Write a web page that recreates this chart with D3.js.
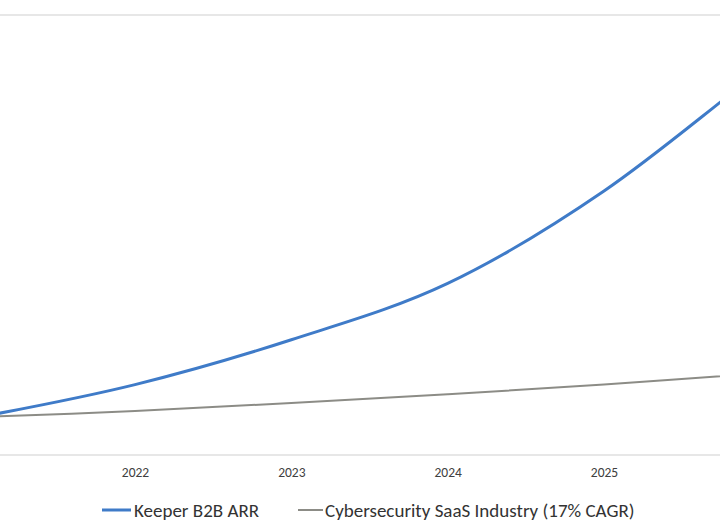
<!DOCTYPE html>
<html>
<head>
<meta charset="utf-8">
<script src="https://cdn.jsdelivr.net/npm/d3@7"></script>
<style>
  html, body { margin: 0; padding: 0; background: #fff; }
  svg { display: block; }
</style>
</head>
<body>
<svg id="chart" width="720" height="530"></svg>
<script>
// Datos (recortado: 2021 y 2026 quedan fuera del borde)
const years = [2021, 2022, 2023, 2024, 2025, 2026];
const tickYears = [2022, 2023, 2024, 2025];
const keeperArr = [43, 80, 131, 195, 300, 438];
const industry = [43, 50, 59, 69, 80, 93];
const gridValues = [0, 500];

const seriesNames = ["Keeper B2B ARR", "Cybersecurity SaaS Industry (17% CAGR)"];
const seriesColors = ["#3f7bc8", "#8c8c86"];
const seriesWidths = [3, 2];

const svg = d3.select("#chart");
const font = "Carlito, Calibri, Lato, sans-serif";

// Escalas
const x = d3.scaleLinear().domain([2022, 2025]).range([135, 604]);
const y = d3.scaleLinear().domain([0, 500]).range([455, 15]);

// Líneas de cuadrícula (la de 0 hace de eje)
svg.append("g")
  .selectAll("line")
  .data(gridValues)
  .enter().append("line")
  .attr("x1", 0)
  .attr("x2", 720)
  .attr("y1", d => y(d))
  .attr("y2", d => y(d))
  .attr("stroke", "#d0d0d0")
  .attr("stroke-width", 1.2);

// Eje X: solo etiquetas
const xAxis = svg.append("g")
  .attr("transform", `translate(0,${y(0)})`)
  .call(d3.axisBottom(x).tickValues(tickYears).tickFormat(d3.format("d")).tickSize(0).tickPadding(12));
xAxis.select(".domain").remove();
xAxis.selectAll("text")
  .attr("font-family", font)
  .attr("font-size", 13.5)
  .attr("fill", "#404040");

// Series
const line = d3.line()
  .x(d => x(d[0]))
  .y(d => y(d[1]))
  .curve(d3.curveCatmullRom.alpha(0));

const series = [keeperArr, industry];
// la gris se dibuja primero, la azul encima
[1, 0].forEach(i => {
  svg.append("path")
    .datum(years.map((yr, j) => [yr, series[i][j]]))
    .attr("fill", "none")
    .attr("stroke", seriesColors[i])
    .attr("stroke-width", seriesWidths[i])
    .attr("stroke-linejoin", "round")
    .attr("d", line);
});

// Leyenda
const legend = svg.append("g").attr("transform", "translate(102,510)");
let offset = 0;
seriesNames.forEach((name, i) => {
  const item = legend.append("g").attr("transform", `translate(${offset},0)`);
  item.append("line")
    .attr("x1", 0).attr("x2", i === 0 ? 29 : 25)
    .attr("y1", 0).attr("y2", 0)
    .attr("stroke", seriesColors[i])
    .attr("stroke-width", seriesWidths[i]);
  const t = item.append("text")
    .attr("x", i === 0 ? 32 : 27)
    .attr("y", 6.5)
    .attr("font-family", font)
    .attr("font-size", 19)
    .attr("fill", "#333")
    .text(name);
  offset += (i === 0 ? 32 : 27) + t.node().getComputedTextLength() + 39;
});
</script>
</body>
</html>
